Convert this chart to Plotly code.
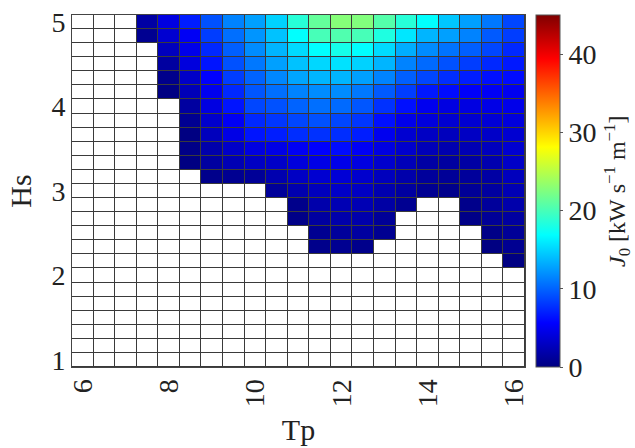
import plotly.graph_objects as go

# Peak period Tp (columns) and significant wave height Hs (rows)
tp = [6, 6.5, 7, 7.5, 8, 8.5, 9, 9.5, 10, 10.5, 11, 11.5, 12, 12.5, 13, 13.5, 14, 14.5, 15, 15.5, 16]
hs_top_down = [5, 4.833, 4.667, 4.5, 4.333, 4.167, 4, 3.833, 3.667, 3.5, 3.333, 3.167, 3,
               2.833, 2.667, 2.5, 2.333, 2.167, 2, 1.833, 1.667, 1.5, 1.333, 1.167, 1]

N = None
# J0 [kW s^-1 m^-1], rows from Hs = 5 (top) down to Hs = 1 (bottom)
j0_top_down = [
    [N, N, N, 1.6, 4.3, 6.9, 9.2, 11.4, 12.7, 14.9, 18.6, 21.3, 22.8, 22.6, 20.6, 18.6, 16.9, 14.4, 12.7, 10.9, 8.7],
    [N, N, N, 0.75, 3.6, 5.2, 8.3, 10.5, 12.2, 14.2, 16.9, 20.0, 20.4, 20.0, 18.2, 15.8, 13.6, 12.7, 11.4, 9.6, 8.3],
    [N, N, N, N, 2.7, 4.7, 7.4, 9.8, 11.8, 13.6, 15.3, 16.9, 17.8, 16.9, 15.3, 13.3, 11.8, 10.7, 9.8, 8.7, 7.4],
    [N, N, N, N, 1.4, 4.1, 6.5, 9.2, 10.9, 12.7, 14.2, 15.1, 15.6, 14.9, 13.6, 11.4, 10.3, 9.2, 8.3, 7.4, 6.7],
    [N, N, N, N, 0.5, 3.2, 5.6, 8.3, 10.0, 11.6, 12.9, 13.6, 13.6, 12.7, 11.4, 9.8, 8.7, 7.6, 6.9, 6.3, 6.1],
    [N, N, N, N, 0.1, 2.5, 4.9, 7.4, 9.4, 10.5, 11.4, 11.8, 11.8, 10.9, 9.6, 8.3, 6.7, 6.1, 5.4, 5.2, 4.9],
    [N, N, N, N, N, 1.4, 4.3, 6.5, 8.7, 9.2, 10.0, 10.5, 10.3, 9.4, 7.8, 6.3, 4.9, 4.3, 4.3, 4.5, 4.7],
    [N, N, N, N, N, 0.75, 3.4, 5.2, 7.4, 8.0, 8.7, 9.2, 8.7, 8.0, 6.3, 4.7, 4.1, 3.6, 3.6, 3.8, 4.1],
    [N, N, N, N, N, 0.1, 2.7, 4.5, 6.5, 6.9, 7.6, 7.8, 7.6, 6.9, 4.9, 3.6, 3.0, 2.7, 3.0, 3.2, 3.6],
    [N, N, N, N, N, 0.3, 1.9, 3.2, 4.3, 4.5, 5.2, 5.6, 6.1, 5.2, 4.3, 3.4, 2.5, 2.1, 2.3, 2.7, 3.6],
    [N, N, N, N, N, 0.1, 1.4, 2.3, 3.0, 3.2, 4.1, 4.5, 4.7, 4.3, 3.4, 2.5, 1.6, 1.4, 1.6, 2.1, 3.2],
    [N, N, N, N, N, N, 0.5, 0.75, 1.0, 2.1, 3.0, 3.6, 3.8, 3.4, 2.7, 1.9, 1.2, 1.0, 1.2, 1.6, 2.7],
    [N, N, N, N, N, N, N, N, N, 1.1, 2.1, 2.7, 3.2, 3.0, 2.1, 1.4, 0.75, 0.5, 1.0, 1.4, 2.3],
    [N, N, N, N, N, N, N, N, N, N, 0.5, 1.9, 2.3, 2.3, 1.6, 0.75, N, N, 0.5, 1.2, 1.9],
    [N, N, N, N, N, N, N, N, N, N, 0.3, 1.4, 1.9, 1.9, 1.0, N, N, N, 0.3, 1.0, 1.4],
    [N, N, N, N, N, N, N, N, N, N, N, 0.75, 1.2, 1.4, 0.75, N, N, N, N, 0.3, 1.0],
    [N, N, N, N, N, N, N, N, N, N, N, 0.5, 0.75, 0.5, N, N, N, N, N, 0.1, 0.75],
    [N, N, N, N, N, N, N, N, N, N, N, N, N, N, N, N, N, N, N, N, 0.1],
    [N] * 21, [N] * 21, [N] * 21, [N] * 21, [N] * 21, [N] * 21, [N] * 21,
]

x_ticks = [6, 8, 10, 12, 14, 16]
y_ticks = [1, 2, 3, 4, 5]
cbar_ticks = [0, 10, 20, 30, 40]

hs = hs_top_down[::-1]
j0 = j0_top_down[::-1]

jet = [
    [0.0, "rgb(0,0,128)"],
    [0.125, "rgb(0,0,255)"],
    [0.375, "rgb(0,255,255)"],
    [0.625, "rgb(255,255,0)"],
    [0.875, "rgb(255,0,0)"],
    [1.0, "rgb(128,0,0)"],
]

FONT = "Liberation Serif, Times New Roman, Times, serif"
TXT = "#222"
fig = go.Figure()

# white background grid for the empty (NaN) cells
fig.add_trace(go.Heatmap(
    x=tp, y=hs, z=[[0] * len(tp) for _ in hs],
    colorscale=[[0, "white"], [1, "white"]], showscale=False,
    xgap=1, ygap=1, hoverinfo="skip",
))

fig.add_trace(go.Heatmap(
    x=tp, y=hs, z=j0,
    colorscale=jet, zmin=0, zmax=45,
    xgap=1, ygap=1,
    colorbar=dict(
        x=1.0234, xanchor="left", xpad=0, y=0.5, yanchor="middle",
        len=1.0, lenmode="fraction", ypad=0,
        thickness=24, thicknessmode="pixels",
        outlinecolor="#555", outlinewidth=1,
        tickvals=cbar_ticks, ticks="outside", ticklen=3, tickcolor="#555",
        ticklabeloverflow="allow",
        tickfont=dict(family=FONT, size=28, color=TXT),
    ),
))

fig.update_layout(
    width=635, height=448,
    margin=dict(l=72, r=110, t=7, b=81),
    plot_bgcolor="#3a3a3a", paper_bgcolor="white",
    font=dict(family=FONT, color=TXT),
    xaxis=dict(
        range=[5.75, 16.25], tickvals=x_ticks, tickangle=-90,
        showgrid=False, zeroline=False, ticks="",
        showline=True, linecolor="#444", linewidth=1, mirror=True,
        ticklabeloverflow="allow",
        tickfont=dict(family=FONT, size=28, color=TXT),
        title=dict(text="Tp", font=dict(family=FONT, size=30, color=TXT), standoff=12),
    ),
    yaxis=dict(
        range=[1 - 1 / 12, 5 + 1 / 12], tickvals=y_ticks,
        showgrid=False, zeroline=False, ticks="",
        showline=True, linecolor="#444", linewidth=1, mirror=True,
        ticklabeloverflow="allow",
        tickfont=dict(family=FONT, size=28, color=TXT),
        title=dict(text="Hs", font=dict(family=FONT, size=30, color=TXT), standoff=10),
    ),
    annotations=[dict(
        text="<i>J</i><sub>0</sub>&nbsp;[kW&nbsp;s<sup>−1</sup>&nbsp;m<sup>−1</sup>]",
        xref="paper", yref="paper", x=1.203, y=0.5,
        xanchor="center", yanchor="middle", textangle=-90, showarrow=False,
        font=dict(family=FONT, size=24, color=TXT),
    )],
)

fig.write_html("out.html")
